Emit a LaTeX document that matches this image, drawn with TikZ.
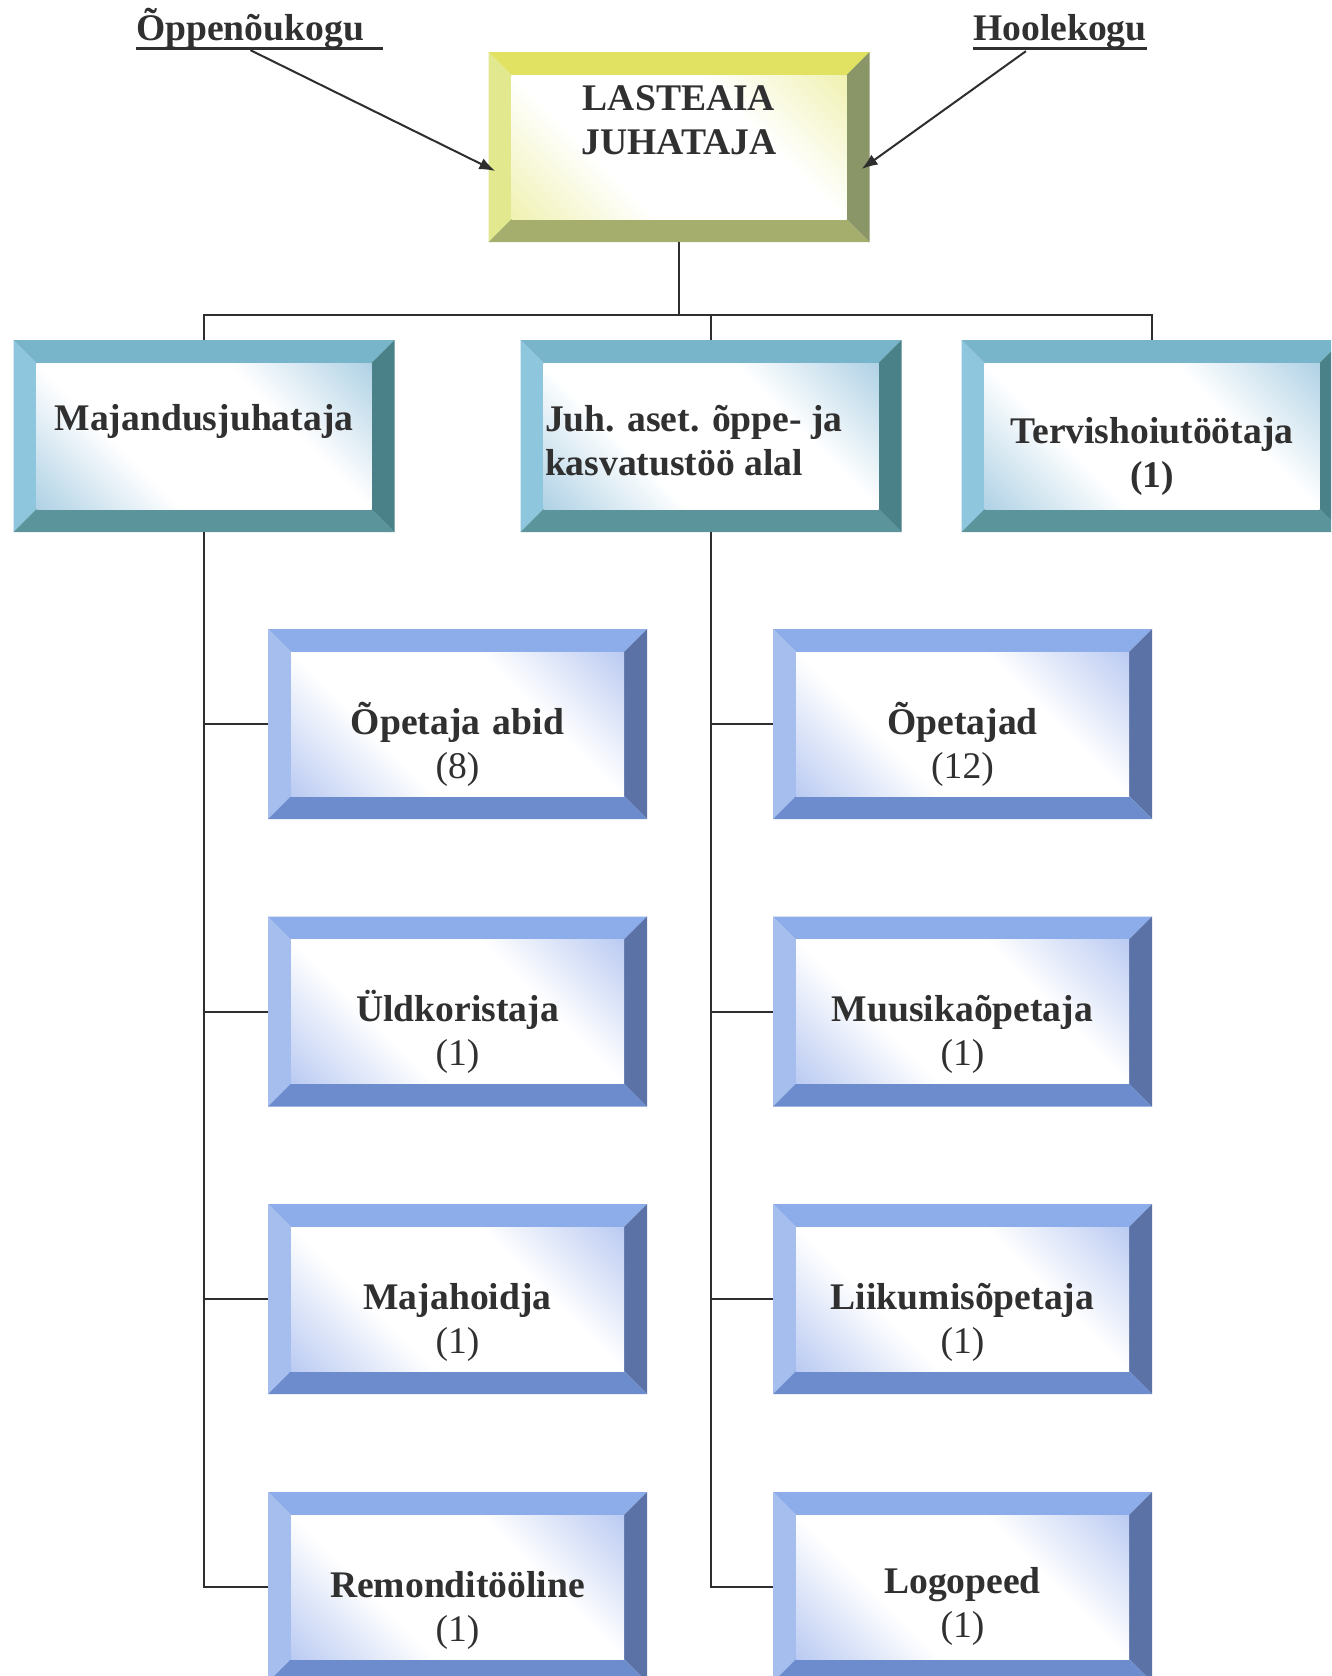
\documentclass[tikz,border=0pt]{standalone}
\usepackage{fontspec}
\setmainfont{Liberation Serif}
\usetikzlibrary{arrows.meta}
\definecolor{textc}{HTML}{303030}
\definecolor{linec}{HTML}{2E2E2E}
% yellow set
\definecolor{ytop}{HTML}{E2E262}
\definecolor{yleft}{HTML}{E2E88E}
\definecolor{yright}{HTML}{8A9668}
\definecolor{ybot}{HTML}{A6AE6E}
\definecolor{ytint}{HTML}{EEF0A8}
% teal set
\definecolor{ttop}{HTML}{78B4CA}
\definecolor{tleft}{HTML}{8EC6DE}
\definecolor{tright}{HTML}{4A8088}
\definecolor{tbot}{HTML}{5C949C}
\definecolor{ttint}{HTML}{A6CCE2}
% blue set
\definecolor{btop}{HTML}{8CACEA}
\definecolor{bleft}{HTML}{A6BEEE}
\definecolor{bright}{HTML}{5A72A6}
\definecolor{bbot}{HTML}{6C8CCE}
\definecolor{btint}{HTML}{B2C4F0}
\pgfdeclareverticalshading{facey}{100bp}{color(0bp)=(ytint); color(12bp)=(ytint); color(36bp)=(white); color(64bp)=(white); color(88bp)=(ytint); color(100bp)=(ytint)}
\pgfdeclareverticalshading{facet}{100bp}{color(0bp)=(ttint); color(12bp)=(ttint); color(36bp)=(white); color(64bp)=(white); color(88bp)=(ttint); color(100bp)=(ttint)}
\pgfdeclareverticalshading{faceb}{100bp}{color(0bp)=(btint); color(12bp)=(btint); color(36bp)=(white); color(64bp)=(white); color(88bp)=(btint); color(100bp)=(btint)}
\newcommand\bw{23pt}
\newcommand\bevelfill[1]{%
  \coordinate (pA) at (path picture bounding box.north west);
  \coordinate (pB) at (path picture bounding box.north east);
  \coordinate (pC) at (path picture bounding box.south east);
  \coordinate (pD) at (path picture bounding box.south west);
  \coordinate (qA) at ([shift={(\bw,-\bw)}]pA);
  \coordinate (qB) at ([shift={(-\bw,-\bw)}]pB);
  \coordinate (qC) at ([shift={(-\bw,\bw)}]pC);
  \coordinate (qD) at ([shift={(\bw,\bw)}]pD);
  \fill[#1top] (pA)--(pB)--(qB)--(qA)--cycle;
  \fill[#1left] (pA)--(qA)--(qD)--(pD)--cycle;
  \fill[#1right] (pB)--(pC)--(qC)--(qB)--cycle;
  \fill[#1bot] (pD)--(qD)--(qC)--(pC)--cycle;
  \shade[shading=face#1, shading angle=-45] (qA) rectangle (qC);
}
\newcommand\myul[1]{\setbox0=\hbox{#1}\rlap{\rule[-10pt]{\wd0}{3pt}}\box0}
\tikzset{
  bbox/.style={rectangle, inner sep=0pt, text=textc, align=center,
    font=\fontsize{37.6}{44}\selectfont\bfseries, path picture={\bevelfill{#1}}},
  lvone/.style={bbox=y, minimum width=381pt, minimum height=190pt,
    text width=360pt, text height=0pt, text depth=74pt},
  lvtwo/.style={bbox=t, minimum width=381pt, minimum height=192pt, text width=360pt},
  lvthree/.style={bbox=b, minimum width=379pt, minimum height=190pt,
    text width=340pt, text height=20pt, text depth=0pt},
  conn/.style={draw=linec, line width=2pt},
  arr/.style={draw=linec, line width=2pt, -{Latex[length=16pt,width=12pt]}},
  lbl/.style={inner sep=0pt, text=textc, font=\fontsize{37.6}{44}\selectfont\bfseries},
}
\begin{document}
\begin{tikzpicture}[x=1pt,y=-1pt]
\useasboundingbox (0,0) rectangle (1331,1676);
\clip (0,0) rectangle (1331,1676);
\fill[white] (0,0) rectangle (1331,1676);

% labels
\node[lbl, anchor=base west] (opp) at (136,40) {\myul{Õppenõukogu\hspace{.5em}}};
\node[lbl, anchor=base west] (hool) at (973,40) {\myul{Hoolekogu}};

% top box
\node[lvone] (top) at (679,147) {LASTEAIA\\JUHATAJA};

% level two
\node[lvtwo, text height=0pt, text depth=12pt] (maj) at (204,436) {Majandusjuhataja};
\node[lvtwo, text width=332pt, align=flush left, text height=0pt, text depth=10pt] (mid) at (711,436) {Juh. aset. õppe- ja\\kasvatustöö alal};
\node[lvtwo, text height=14pt, text depth=0pt] (terv) at (1152,436) {Tervishoiutöötaja\\(1)};

% level three, left
\node[lvthree] (a1) at (457.5,724) {Õpetaja abid\\\mdseries(8)};
\node[lvthree] (a2) at (457.5,1011.5) {Üldkoristaja\\\mdseries(1)};
\node[lvthree] (a3) at (457.5,1299) {Majahoidja\\\mdseries(1)};
\node[lvthree] (a4) at (457.5,1587) {Remonditööline\\\mdseries(1)};
% level three, right
\node[lvthree] (b1) at (962.5,724) {Õpetajad\\\mdseries(12)};
\node[lvthree] (b2) at (962.5,1011.5) {Muusikaõpetaja\\\mdseries(1)};
\node[lvthree] (b3) at (962.5,1299) {Liikumisõpetaja\\\mdseries(1)};
\node[lvthree, text height=12pt] (b4) at (962.5,1587) {Logopeed\\\mdseries(1)};

% connectors
\coordinate (bar) at (679,315);
\draw[conn] (top.south) -- (bar);
\draw[conn] (bar) -| (maj.north);
\draw[conn] (bar) -| (mid.north);
\draw[conn] (bar) -| (terv.north);
\foreach \n in {a1,a2,a3,a4} \draw[conn] (maj.south) |- (\n.west);
\foreach \n in {b1,b2,b3,b4} \draw[conn] (mid.south) |- (\n.west);

% arrows
\draw[arr] ([shift={(-9pt,0pt)}]opp.south) -- ([shift={(7pt,-24pt)}]top.west);
\draw[arr] ([shift={(-34pt,-1pt)}]hool.south) -- ([shift={(-8pt,-22pt)}]top.east);
\end{tikzpicture}
\end{document}
